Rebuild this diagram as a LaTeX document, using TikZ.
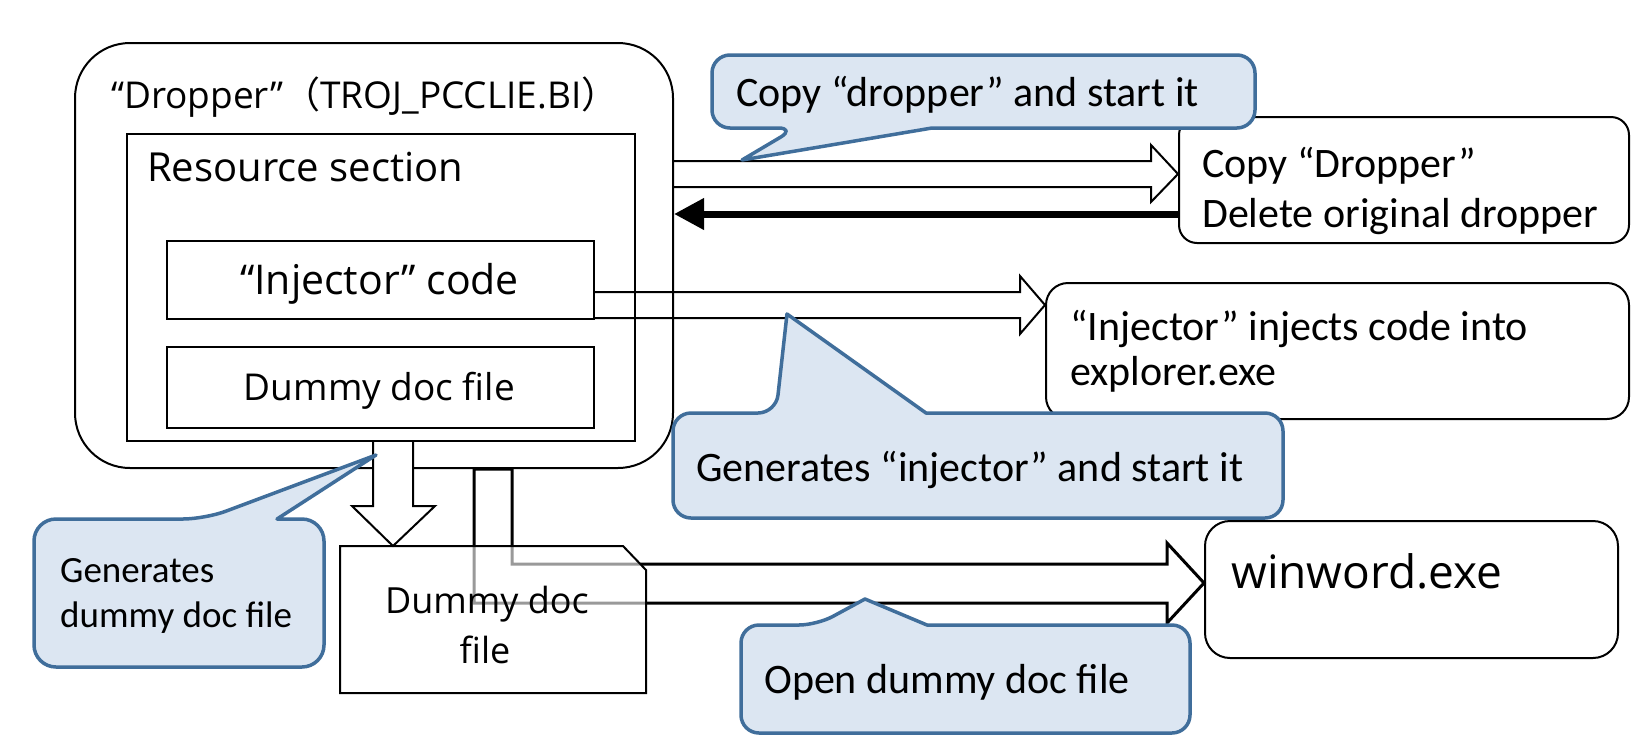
\documentclass[tikz,border=0pt]{standalone}
\usepackage{fontspec}
\usetikzlibrary{arrows.meta}
\newfontfamily\calfont{Carlito}
\newfontfamily\mfont{Open Sans}
\newfontfamily\cjkfont{Noto Sans CJK JP}
\definecolor{cfill}{RGB}{220,230,242}
\definecolor{cborder}{RGB}{64,110,155}
\newcommand{\fs}[1]{\fontsize{#1}{#1}\selectfont}
\tikzset{
  box/.style={draw=black, line width=2pt, fill=white, inner sep=0pt, anchor=north west},
  callout/.style={draw=cborder, fill=cfill, line width=3.5pt, line join=round},
  blockarrow/.style={draw=black, line width=2pt, line join=miter},
  ctext/.style={inner sep=0pt, anchor=base west, font=\calfont\fs{42}},
  mtext/.style={inner sep=0pt, anchor=base, font=\mfont},
}
\begin{document}
\begin{tikzpicture}[x=1pt,y=-1pt]
\useasboundingbox[fill=white] (0,0) rectangle (1634,748);

% main boxes
\node[box, rounded corners=55pt, minimum width=598pt, minimum height=425pt] (dropper) at (74,42) {};
\node[inner sep=0pt, anchor=base west, font=\mfont\fs{37}] (title) at (111,108)
  {“Dropper”{\cjkfont （}TROJ\_PCCLIE.BI{\cjkfont ）}};
\node[box, minimum width=508pt, minimum height=307pt] (resource) at (126,133) {};
\node[inner sep=0pt, anchor=base west, font=\mfont\fs{40}] (restext) at (147,181) {Resource section};
\node[box, minimum width=427pt, minimum height=78pt] (injector) at (166,240) {};
\node[mtext, font=\mfont\fs{41}] (injtext) at (379.5,294) {“Injector” code};
\node[box, minimum width=427pt, minimum height=81pt] (dummyin) at (166,346) {};
\node[mtext, font=\mfont\fs{37}] (dummyintext) at (379.5,400) {Dummy doc file};

% right boxes
\node[box, rounded corners=18pt, minimum width=450pt, minimum height=126pt] (copybox) at (1178,116) {};
\node[ctext] (copyt1) at (1202,177) {Copy “Dropper”};
\node[ctext] (copyt2) at (1202,227) {Delete original dropper};
\node[box, rounded corners=22pt, minimum width=583pt, minimum height=136pt] (injbox) at (1045,282) {};
\node[ctext] (injt1) at (1070,340) {“Injector” injects code into};
\node[ctext] (injt2) at (1070,385) {explorer.exe};

% arrows to the right boxes
\draw[blockarrow] (dropper.east |- 0,161) -- (1151,161) -- (1151,145) -- (copybox.west |- 0,174)
  -- (1151,202) -- (1151,187) -- (dropper.east |- 0,187);
\draw[line width=7pt, -{Triangle[length=30pt,width=30pt]}] (copybox.west |- 0,214) -- (dropper.east |- 0,214);
\draw[blockarrow] (injector.east |- 0,292) -- (1020,292) -- (1020,276) -- (injbox.west |- 0,305)
  -- (1020,334) -- (1020,318) -- (injector.east |- 0,318);

% doc box corner coordinates
\coordinate (docNW) at (340,546);
\coordinate (docSE) at (646,693);

% down arrow
\fill[white] (resource.south -| 373,0) -- (373,506) -- (352,506) -- (docNW -| 393,0) -- (435,506) -- (413,506) -- (resource.south -| 413,0) -- cycle;
\draw[blockarrow] (resource.south -| 373,0) -- (373,506) -- (352,506) -- (docNW -| 393,0) -- (435,506) -- (413,506) -- (resource.south -| 413,0);

% winword box and arrow
\node[box, rounded corners=25pt, minimum width=413pt, minimum height=137pt] (winword) at (1204,520) {};
\node[inner sep=0pt, anchor=base west, font=\mfont\fs{46}] (wwtext) at (1231,588) {winword.exe};
\draw[line width=3pt, line join=miter] (dropper.south -| 474,0) -- (474,603) -- (1167,603) -- (1167,623) -- (winword.west |- 0,583)
  -- (1167,543) -- (1167,564) -- (512,564) -- (dropper.south -| 512,0) -- cycle;

% dummy doc file (document)
\fill[white, fill opacity=0.6] (docNW) -- (623,546) -- (646,570) -- (docSE) -- (340,693) -- cycle;
\draw[line width=2pt] (docNW) -- (623,546) -- (646,570) -- (docSE) -- (340,693) -- cycle;
\node[mtext, font=\mfont\fs{36}] (doct1) at (487,613) {Dummy doc};
\node[mtext, font=\mfont\fs{36}] (doct2) at (485,663) {file};

% callouts
\draw[callout] (742,160) -- (932,128) [rounded corners=18pt] -- (1255,128) -- (1255,55) -- (712,55) -- (712,128) -- (796,128) [sharp corners] -- cycle;
\node[ctext] (c1text) at (736,106) {Copy “dropper” and start it};

\draw[callout] (787,314) -- (926,413) [rounded corners=18pt] -- (1283,413) -- (1283,518) -- (673,518) -- (673,413) -- (776,413) [sharp corners] -- cycle;
\node[ctext] (c2text) at (696,481) {Generates “injector” and start it};

\draw[callout] (376,455) -- (277,519) [rounded corners=22pt] -- (324,519) -- (324,667) -- (34,667) -- (34,519) -- (205,519) [sharp corners] -- cycle;
\node[ctext, font=\calfont\fs{37}] (c3t1) at (60,582) {Generates};
\node[ctext, font=\calfont\fs{37}] (c3t2) at (60,627) {dummy doc file};

\draw[callout] (865,599) -- (927,625) [rounded corners=18pt] -- (1190,625) -- (1190,733) -- (741,733) -- (741,625) -- (817,625) [sharp corners] -- cycle;
\node[ctext] (c4text) at (764,693) {Open dummy doc file};
\end{tikzpicture}
\end{document}
